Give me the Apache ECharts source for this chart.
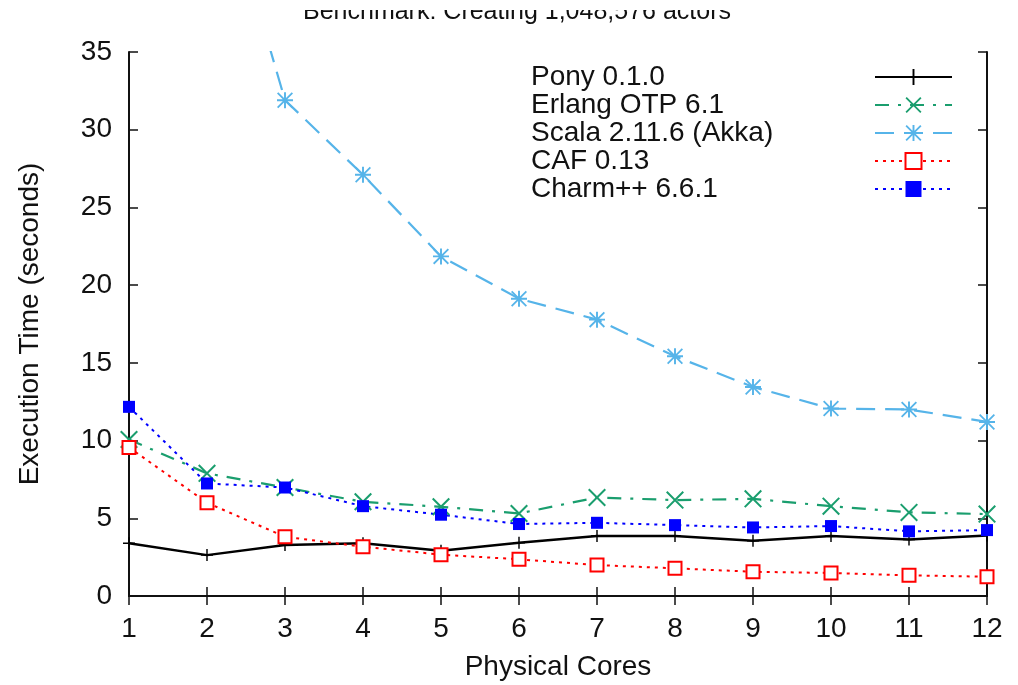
<!DOCTYPE html>
<html>
<head>
<meta charset="utf-8">
<title>Benchmark: Creating 1,048,576 actors</title>
<script src="https://cdn.jsdelivr.net/npm/echarts@6/dist/echarts.min.js"></script>
<style>
  html, body { margin: 0; padding: 0; background: #fff; }
  #main { width: 1018px; height: 685px; }
</style>
</head>
<body>
<div id="main"></div>
<script>
// number of cores on the x axis
var cores = [1, 2, 3, 4, 5, 6, 7, 8, 9, 10, 11, 12];
var yTicks = [0, 5, 10, 15, 20, 25, 30, 35];

// execution time in seconds
var pony   = [3.39, 2.63, 3.28, 3.39, 2.91, 3.43, 3.86, 3.86, 3.56, 3.86, 3.64, 3.90];
var erlang = [10.07, 7.89, 6.98, 6.06, 5.74, 5.31, 6.34, 6.17, 6.25, 5.78, 5.38, 5.27];
var scala  = [62.0, 49.1, 31.9, 27.1, 21.85, 19.13, 17.78, 15.42, 13.45, 12.06, 12.0, 11.2];
var caf    = [9.56, 6.00, 3.81, 3.17, 2.66, 2.36, 1.99, 1.78, 1.56, 1.48, 1.33, 1.24];
var charm  = [12.17, 7.24, 6.98, 5.78, 5.23, 4.63, 4.71, 4.56, 4.41, 4.50, 4.16, 4.24];

var names = ['Pony 0.1.0', 'Erlang OTP 6.1', 'Scala 2.11.6 (Akka)', 'CAF 0.13', 'Charm++ 6.6.1'];

// gnuplot style point shapes
var plusPath = 'path://M4.4,0H5.6V4.4H10V5.6H5.6V10H4.4V5.6H0V4.4H4.4Z';
var crossPath = 'path://M0,0.8L0.8,0L10,9.2L9.2,10Z M9.2,0L10,0.8L0.8,10L0,9.2Z';
var starPath = 'path://M4.4,0H5.6V10H4.4Z M0,4.4H10V5.6H0Z M0.8,0L10,9.2L9.2,10L0,0.8Z M9.2,0L10,0.8L0.8,10L0,9.2Z';

function pairs(vals) {
  return cores.map(function (c, i) { return [c, vals[i]]; });
}

var font = 'Liberation Sans, Arial, sans-serif';
var ink = '#111';
var chart = echarts.init(document.getElementById('main'));

chart.setOption({
  backgroundColor: '#fff',
  animation: false,
  textStyle: { fontFamily: font },
  title: {
    text: 'Benchmark: Creating 1,048,576 actors',
    left: 303,
    top: 0,
    padding: 0,
    textStyle: { fontSize: 25, fontWeight: 'normal', color: ink, fontFamily: font }
  },
  // the top of the title is cut off in the original figure
  graphic: [{
    type: 'rect',
    left: 0, top: 0, z: 100,
    shape: { width: 1018, height: 10 },
    style: { fill: '#fff' }
  }],
  legend: {
    orient: 'vertical',
    left: 531,
    top: 63,
    align: 'right',
    itemWidth: 77,
    itemHeight: 20,
    itemGap: 0,
    padding: 0,
    selectedMode: false,
    data: names,
    formatter: function (name) { return '{t|' + name + '}'; },
    textStyle: {
      fontSize: 28, color: ink, fontFamily: font,
      rich: { t: { fontSize: 28, color: ink, fontFamily: font, width: 339, align: 'left', lineHeight: 28 } }
    }
  },
  grid: {
    left: 129, right: 31, top: 52, bottom: 89,
    outerBoundsMode: 'none'
  },
  xAxis: [{
    type: 'value',
    min: 1, max: 12, interval: 1,
    name: 'Physical Cores',
    nameLocation: 'middle',
    nameGap: 57,
    nameTextStyle: { fontSize: 28, color: ink, fontFamily: font },
    axisLine: { show: true, lineStyle: { color: ink, width: 2 } },
    axisTick: { show: true, inside: true, length: 9, lineStyle: { color: ink, width: 1.5 } },
    axisLabel: { fontSize: 28, color: ink, margin: 19, formatter: function (v) { return cores.indexOf(v) >= 0 ? String(v) : ''; } },
    splitLine: { show: false }
  }, {
    type: 'value',
    position: 'top',
    min: 1, max: 12, interval: 1,
    axisLine: { show: true, lineStyle: { color: ink, width: 2 } },
    axisTick: { show: true, inside: true, length: 9, lineStyle: { color: ink, width: 1.5 } },
    axisLabel: { show: false },
    splitLine: { show: false }
  }],
  yAxis: [{
    type: 'value',
    min: yTicks[0], max: yTicks[yTicks.length - 1], interval: 5,
    name: 'Execution Time (seconds)',
    nameLocation: 'middle',
    nameRotate: 90,
    nameGap: 85,
    nameTextStyle: { fontSize: 28, color: ink, fontFamily: font },
    axisLine: { show: true, lineStyle: { color: ink, width: 2 } },
    axisTick: { show: true, inside: true, length: 9, lineStyle: { color: ink, width: 1.5 } },
    axisLabel: { fontSize: 28, color: ink, margin: 17 },
    splitLine: { show: false }
  }, {
    type: 'value',
    position: 'right',
    min: yTicks[0], max: yTicks[yTicks.length - 1], interval: 5,
    axisLine: { show: true, lineStyle: { color: ink, width: 2 } },
    axisTick: { show: true, inside: true, length: 9, lineStyle: { color: ink, width: 1.5 } },
    axisLabel: { show: false },
    splitLine: { show: false }
  }],
  series: [{
    name: names[0],
    type: 'line',
    data: pairs(pony),
    symbol: plusPath,
    symbolSize: 12,
    color: '#000',
    itemStyle: { color: '#000' },
    lineStyle: { color: '#000', width: 2.5 }
  }, {
    name: names[1],
    type: 'line',
    data: pairs(erlang),
    symbol: crossPath,
    symbolSize: 18,
    color: '#1a9e6e',
    itemStyle: { color: '#1a9e6e' },
    lineStyle: { color: '#1a9e6e', width: 2.2, type: [14, 9, 3, 9] }
  }, {
    name: names[2],
    type: 'line',
    data: pairs(scala),
    symbol: starPath,
    symbolSize: 16,
    color: '#56b4e9',
    itemStyle: { color: '#56b4e9' },
    lineStyle: { color: '#56b4e9', width: 2.2, type: [19, 10] }
  }, {
    name: names[3],
    type: 'line',
    data: pairs(caf),
    symbol: 'emptyRect',
    symbolSize: 13,
    color: '#f00',
    itemStyle: { color: '#f00', borderColor: '#f00', borderWidth: 2 },
    lineStyle: { color: '#f00', width: 2, type: [3, 5] }
  }, {
    name: names[4],
    type: 'line',
    data: pairs(charm),
    symbol: 'rect',
    symbolSize: 12,
    color: '#0000ff',
    itemStyle: { color: '#0000ff' },
    lineStyle: { color: '#0000ff', width: 2, type: [3, 5] }
  }]
});
</script>
</body>
</html>
